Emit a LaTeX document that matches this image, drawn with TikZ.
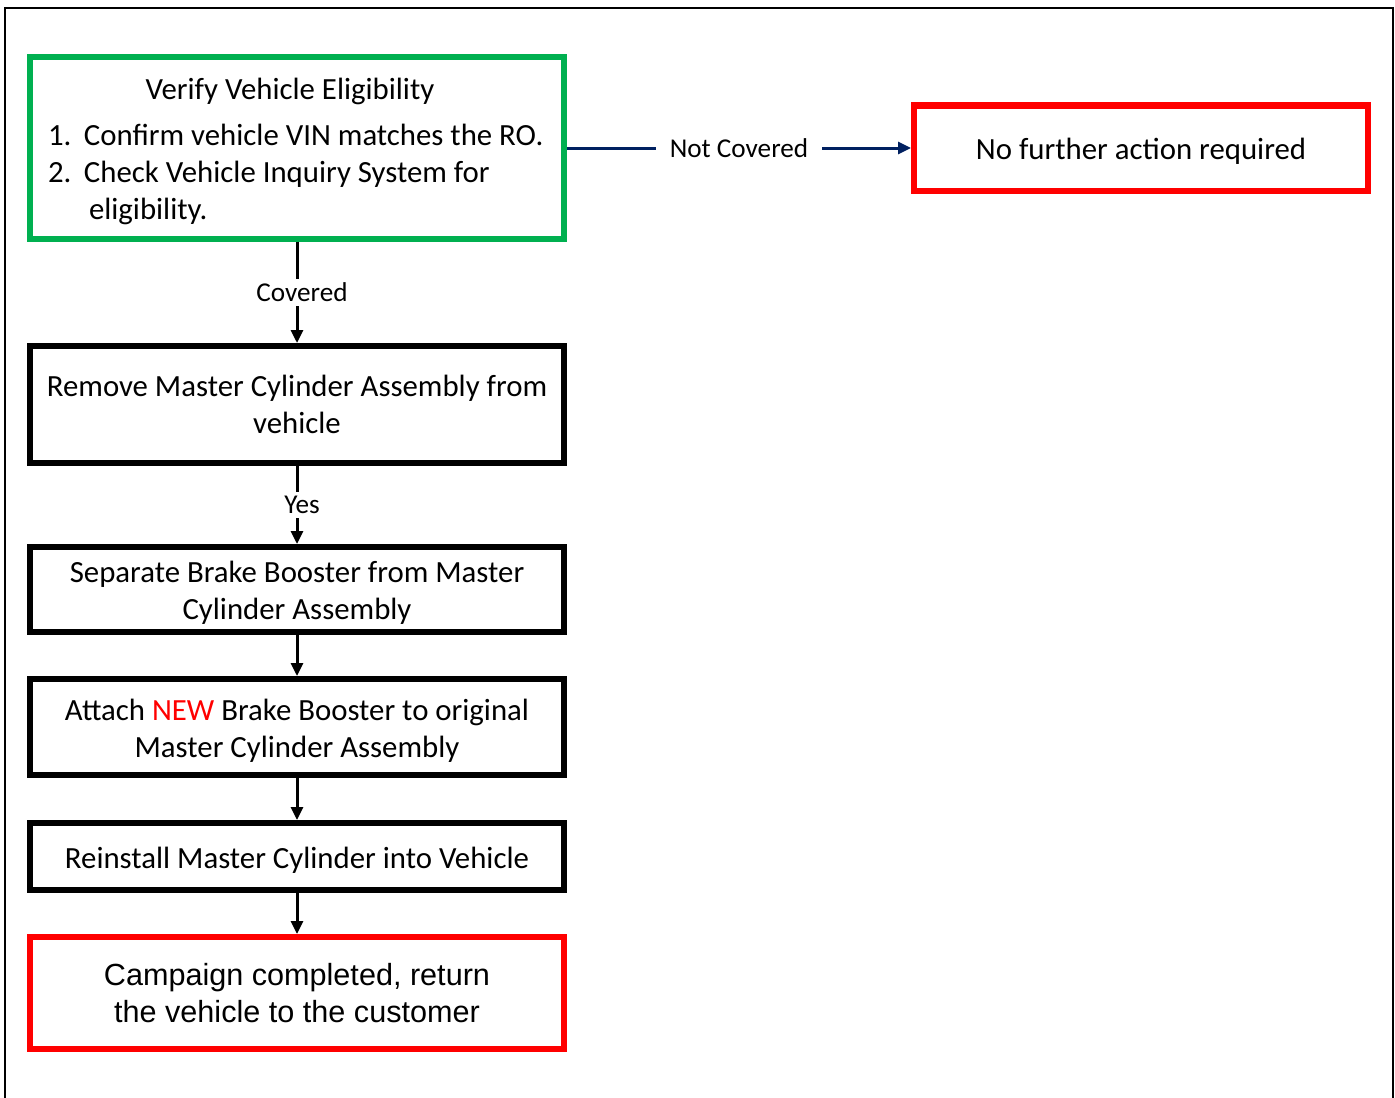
\documentclass[tikz,border=0pt]{standalone}
\usepackage{fontspec}
\setmainfont{Carlito}
\newfontfamily\arialfont{Liberation Sans}
\usetikzlibrary{arrows.meta, positioning}
\definecolor{okgreen}{HTML}{00B050}
\definecolor{stopred}{HTML}{FF0000}
\definecolor{navyline}{HTML}{002060}
\newcommand{\topstrut}{\rule{0pt}{14pt}}
\tikzset{stepbox/.style={draw,line width=3pt,minimum width=267pt,align=center,inner sep=0pt,
                         font=\fontsize{15.4}{18.5}\selectfont},
         checkbox/.style={stepbox,draw=okgreen},
         endbox/.style={stepbox,draw=stopred},
         flow/.style={-{Triangle[width=6pt,length=6.5pt]},line width=1.5pt},
         decision/.style={fill=white,inner xsep=7pt,inner ysep=2pt,font=\fontsize{13.6}{16}\selectfont}}

\begin{document}
\begin{tikzpicture}[x=0.5pt,y=-0.5pt]
        \useasboundingbox (0,0) rectangle (1395,1097);
        \draw[line width=1pt] (5,1110)--(5,8)--(1393,8)--(1393,1110);

        \node[checkbox, minimum height=90.5pt](verify)at(297,148){%
          \begin{minipage}{249pt}\vspace*{3.5pt}\centering\hspace*{-7pt}Verify Vehicle Eligibility\par\vspace{4.5pt}
          \raggedright\makebox[18pt][l]{1.}Confirm vehicle VIN matches the RO.\par
          \makebox[18pt][l]{2.}Check Vehicle Inquiry System for\par
          \hspace{20.5pt}eligibility.\end{minipage}};
        \node[endbox, minimum width=227pt, minimum height=42.5pt](nofurther)at(1141,148){\topstrut No further action required};
        \node[stepbox, minimum height=58.5pt](remove)at(297,404.5){Remove Master Cylinder Assembly from\\vehicle};
        \node[stepbox, minimum height=42.5pt](separate)at(297,589.5){\topstrut Separate Brake Booster from Master\\Cylinder Assembly};
        \node[stepbox, minimum height=48pt](attach)at(297,727){\topstrut Attach {\color{stopred}NEW} Brake Booster to original\\Master Cylinder Assembly};
        \node[stepbox, minimum height=33.5pt](reinstall)at(297,856.5){\topstrut Reinstall Master Cylinder into Vehicle};
        \node[endbox, minimum height=56pt, font=\arialfont\fontsize{15.3}{18.5}\selectfont](campaign)at(297,993){Campaign completed, return\\the vehicle to the customer};

        \draw[flow,draw=navyline,fill=navyline](verify)--node[decision]{Not Covered}(nofurther);
        \draw[flow](verify)--node[decision,xshift=2.5pt]{Covered}(remove);
        \draw[flow](remove)--node[decision,xshift=2.5pt]{Yes}(separate);
        \draw[flow](separate)--(attach);
        \draw[flow](attach)--(reinstall);
        \draw[flow](reinstall)--(campaign);
    \end{tikzpicture}
\end{document}
